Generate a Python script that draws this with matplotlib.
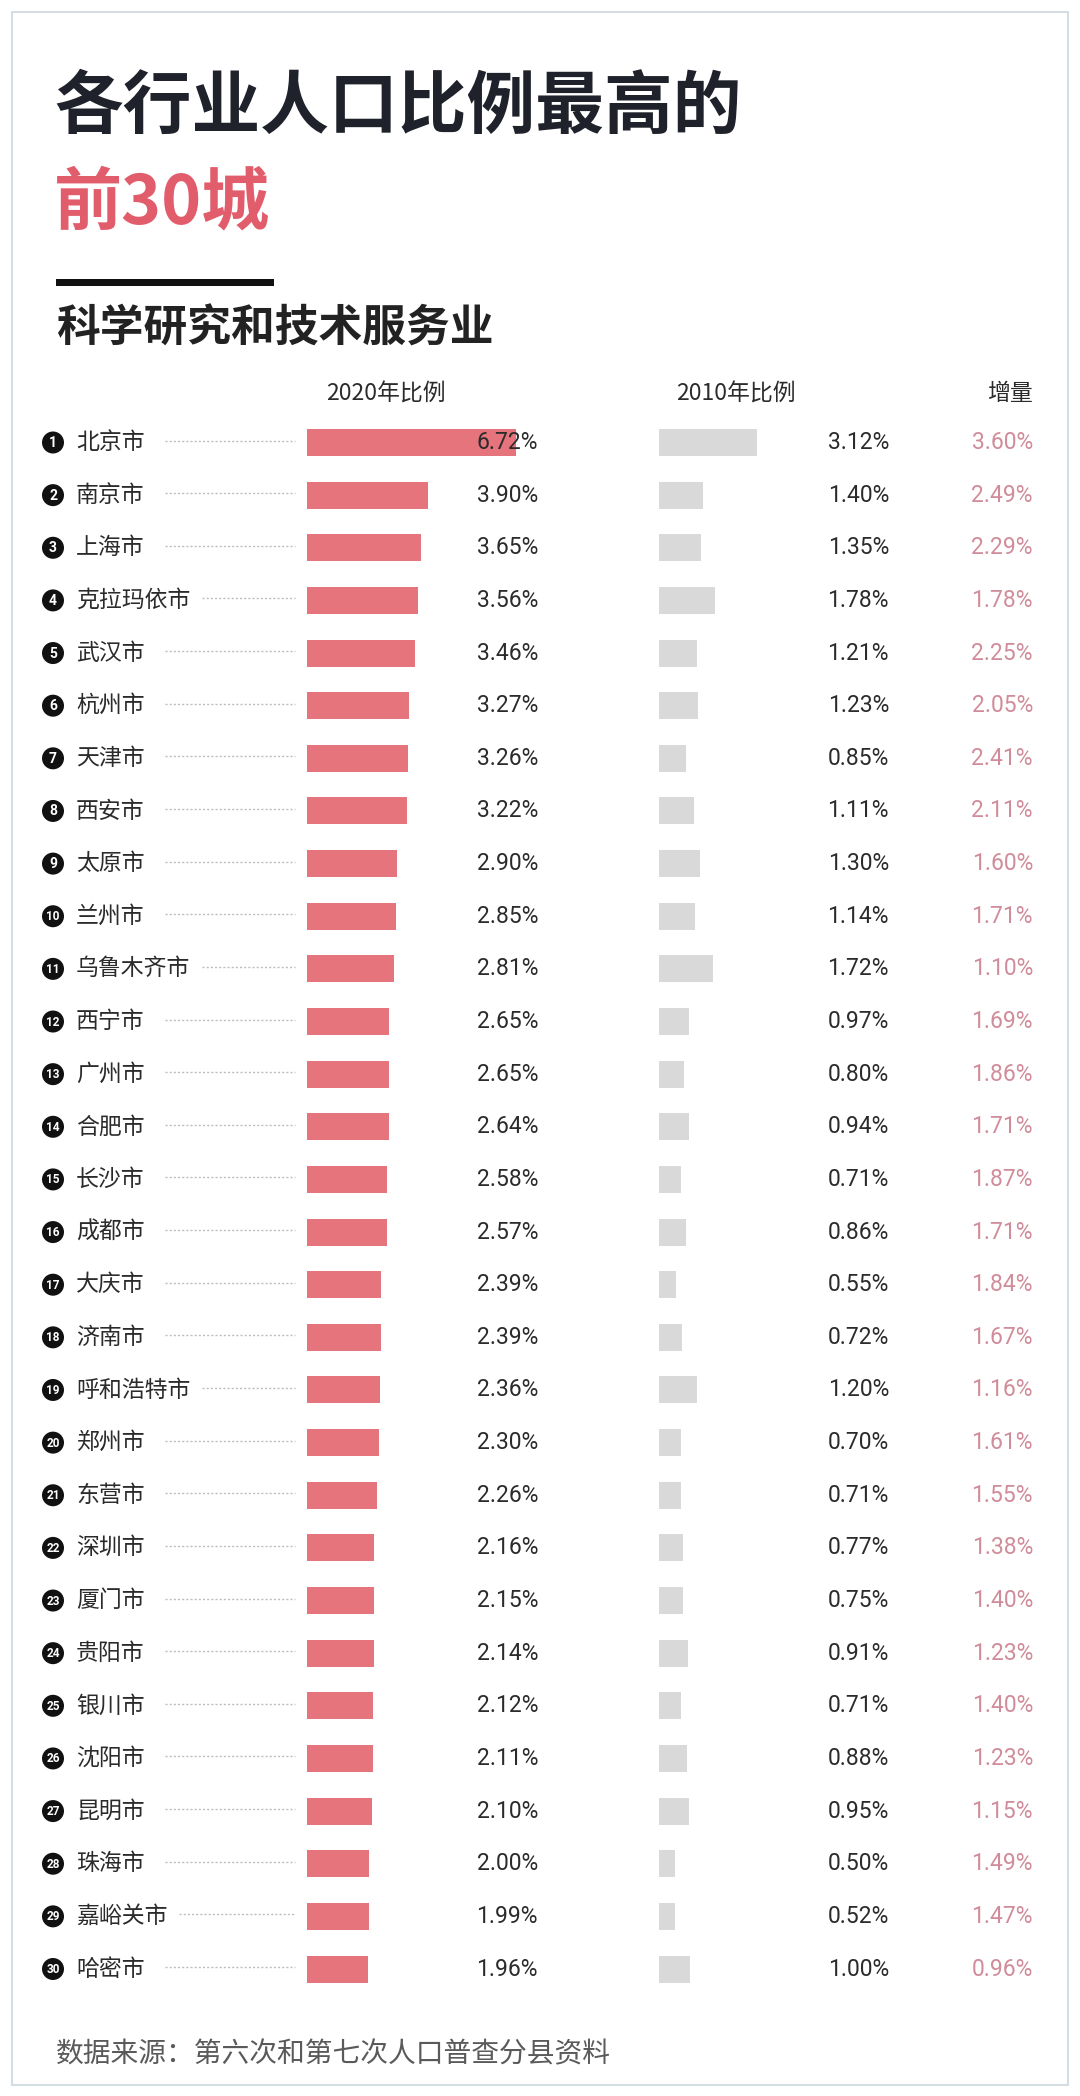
import matplotlib
matplotlib.use("Agg")
import matplotlib.pyplot as plt
from matplotlib.patches import Circle, Rectangle

plt.rcParams['font.family'] = ['Noto Sans CJK SC', 'DejaVu Sans']

# ---------------- data ----------------
cities = ["北京市", "南京市", "上海市", "克拉玛依市", "武汉市", "杭州市", "天津市", "西安市",
          "太原市", "兰州市", "乌鲁木齐市", "西宁市", "广州市", "合肥市", "长沙市", "成都市",
          "大庆市", "济南市", "呼和浩特市", "郑州市", "东营市", "深圳市", "厦门市", "贵阳市",
          "银川市", "沈阳市", "昆明市", "珠海市", "嘉峪关市", "哈密市"]
share_2020 = [6.72, 3.90, 3.65, 3.56, 3.46, 3.27, 3.26, 3.22, 2.90, 2.85, 2.81, 2.65, 2.65,
              2.64, 2.58, 2.57, 2.39, 2.39, 2.36, 2.30, 2.26, 2.16, 2.15, 2.14, 2.12, 2.11,
              2.10, 2.00, 1.99, 1.96]
share_2010 = [3.12, 1.40, 1.35, 1.78, 1.21, 1.23, 0.85, 1.11, 1.30, 1.14, 1.72, 0.97, 0.80,
              0.94, 0.71, 0.86, 0.55, 0.72, 1.20, 0.70, 0.71, 0.77, 0.75, 0.91, 0.71, 0.88,
              0.95, 0.50, 0.52, 1.00]
increase = [3.60, 2.49, 2.29, 1.78, 2.25, 2.05, 2.41, 2.11, 1.60, 1.71, 1.10, 1.69, 1.86,
            1.71, 1.87, 1.71, 1.84, 1.67, 1.16, 1.61, 1.55, 1.38, 1.40, 1.23, 1.40, 1.23,
            1.15, 1.49, 1.47, 0.96]

title1 = "各行业人口比例最高的"
title2 = "前30城"
subtitle = "科学研究和技术服务业"
headers = ["2020年比例", "2010年比例", "增量"]
source = "数据来源：第六次和第七次人口普查分县资料"

# ---------------- style ----------------
W, H = 1080, 2096
RED = "#e5747c"
TITLE_RED = "#e25d6b"
GRAY = "#d9d9d9"
TXT = "#2b2b2b"
INC = "#d08c9a"
NUMFONT = ['Roboto', 'Noto Sans CJK SC']

n = len(cities)
row0, row_last = 442.5, 1969.0
dy = (row_last - row0) / (n - 1)
top_px = row0 - dy / 2
bot_px = row_last + dy / 2

fig = plt.figure(figsize=(W / 100, H / 100), dpi=100)
fig.patch.set_facecolor("white")

def bar_axes(left_px, width_px):
    return fig.add_axes([left_px / W, 1 - bot_px / H, width_px / W, (bot_px - top_px) / H],
                        zorder=1)

idx = list(range(n))
bh = 27 / dy

ax20 = bar_axes(307, 7 * 31.1)
ax20.barh(idx, share_2020, height=bh, color=RED, left=0)
ax20.set_xlim(0, 7)
ax20.set_ylim(n - 0.5, -0.5)
ax20.axis("off")

ax10 = bar_axes(659, 4 * 31.4)
ax10.barh(idx, share_2010, height=bh, color=GRAY, left=0)
ax10.set_xlim(0, 4)
ax10.set_ylim(n - 0.5, -0.5)
ax10.axis("off")

# overlay axes in pixel coordinates for text/decoration
ax = fig.add_axes([0, 0, 1, 1], zorder=2)
ax.set_xlim(0, W)
ax.set_ylim(H, 0)
ax.axis("off")
ax.patch.set_alpha(0)

# frame
ax.add_patch(Rectangle((12, 12), 1056, 2073, fill=False, edgecolor="#d3dde2", lw=1.5))

# titles
ax.text(54, 108, title1, fontsize=49.5, fontweight="bold", color="#1f222b", va="center", ha="left")
ax.text(54, 204, title2, fontsize=49, fontweight="bold", color=TITLE_RED, va="center", ha="left")
ax.add_patch(Rectangle((56, 279), 218, 7, color="#111111", lw=0))
ax.text(56, 329, subtitle, fontsize=31.5, fontweight="bold", color="#222222", va="center", ha="left")

# headers
ax.text(386, 394, headers[0], fontsize=16.5, fontweight="medium", color=TXT, va="center", ha="center")
ax.text(736, 394, headers[1], fontsize=16.5, fontweight="medium", color=TXT, va="center", ha="center")
ax.text(1033, 394, headers[2], fontsize=16.5, fontweight="medium", color=TXT, va="center", ha="right")

char_w = 22.8
for i in range(n):
    y = row0 + i * dy
    ax.add_patch(Circle((53, y), 11, color="#111111", lw=0))
    num = str(i + 1)
    ax.text(53, y + 0.5, num, fontsize=10 if len(num) == 1 else 8.5, fontweight="bold",
            color="white", ha="center", va="center", family=NUMFONT)
    ax.text(76, y, cities[i], fontsize=16.5, color=TXT, ha="left", va="center")
    name_end = 76 + len(cities[i]) * char_w
    x0 = max(165, name_end + 12)
    ax.plot([x0, 295], [y - 2, y - 2], color="#bdbdbd", lw=1, ls=(0, (1.5, 1.5)))
    ax.text(538, y, f"{share_2020[i]:.2f}%", fontsize=16.5, color=TXT, ha="right", va="center",
            family=NUMFONT)
    ax.text(889, y, f"{share_2010[i]:.2f}%", fontsize=16.5, color=TXT, ha="right", va="center",
            family=NUMFONT)
    ax.text(1033, y, f"{increase[i]:.2f}%", fontsize=16.5, color=INC, ha="right", va="center",
            family=NUMFONT)

ax.text(56, 2054, source, fontsize=20, color="#5a5a5a", ha="left", va="center")

fig.savefig("out.png", dpi=100, facecolor="white")
